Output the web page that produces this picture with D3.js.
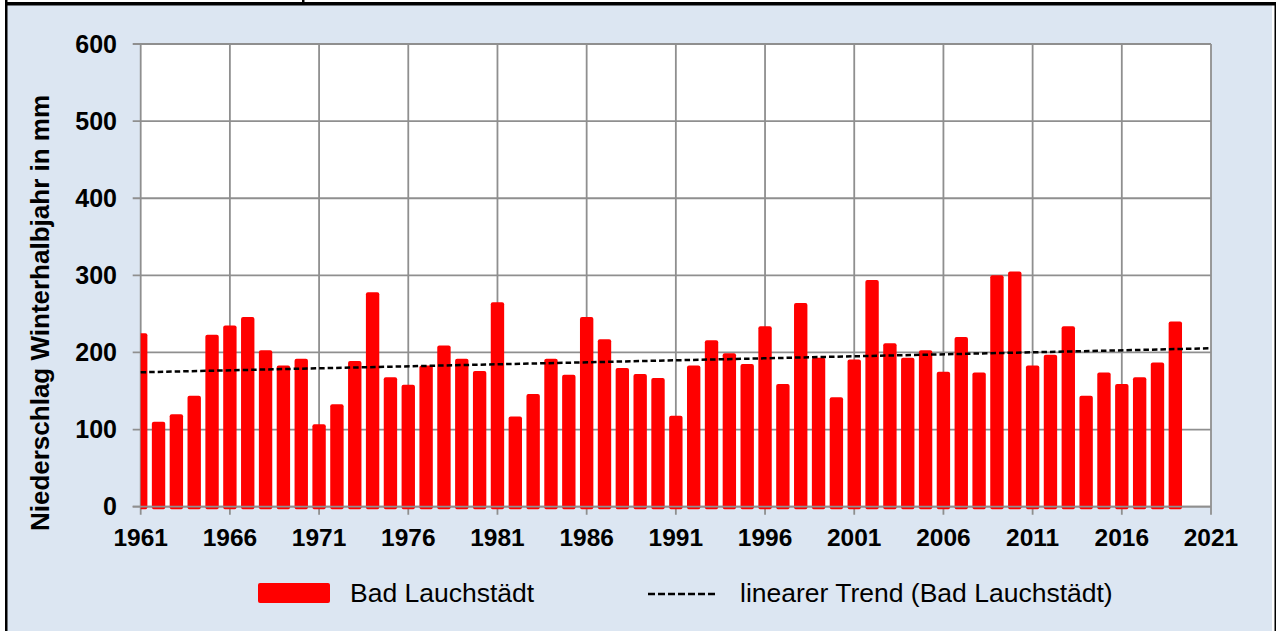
<!DOCTYPE html>
<html>
<head>
<meta charset="utf-8">
<script src="https://cdn.jsdelivr.net/npm/d3@7"></script>
<style>
  body { margin: 0; background: #fff; }
  svg { display: block; font-family: "Liberation Sans", Arial, sans-serif; }
</style>
</head>
<body>
<script>
// Niederschlag Winterhalbjahr, Bad Lauchstädt
var years = d3.range(1961, 2020);
var values = [
  225, 110, 120, 144, 223, 235, 246, 203, 183, 192,
  107, 133, 189, 278, 168, 158, 183, 209, 192, 176,
  265, 117, 146, 192, 171, 246, 217, 180, 172, 167,
  118, 183, 216, 199, 185, 234, 159, 264, 193, 142,
  191, 294, 212, 193, 203, 175, 220, 174, 300, 305,
  183, 197, 234, 144, 174, 159, 168, 187, 240
];
var trendStart = 174.3, trendEnd = 205.4;   // linear trend at 1961 and 2021
var yTicks = [0, 100, 200, 300, 400, 500, 600];
var xTicks = d3.range(1961, 2022, 5);
var seriesName = "Bad Lauchstädt";
var trendName = "linearer Trend (Bad Lauchstädt)";
var yTitle = "Niederschlag Winterhalbjahr in mm";

var W = 1276, H = 631;
var svg = d3.select("body").append("svg").attr("width", W).attr("height", H);

// frame
svg.append("rect").attr("x", 7).attr("y", 5).attr("width", 1266).attr("height", H - 5).attr("fill", "#dce6f2");
svg.append("rect").attr("x", 1272).attr("y", 5).attr("width", 2).attr("height", H - 5).attr("fill", "#fff");
svg.append("rect").attr("x", 5).attr("y", 2).attr("width", W - 5).attr("height", 3.5).attr("fill", "#000");
svg.append("rect").attr("x", 5).attr("y", 0).attr("width", 2.5).attr("height", H).attr("fill", "#000");
svg.append("rect").attr("x", 1274.5).attr("y", 2).attr("width", 1.5).attr("height", H).attr("fill", "#000");
svg.append("rect").attr("x", 302).attr("y", 0).attr("width", 2.5).attr("height", 4).attr("fill", "#000");

var x = d3.scaleLinear().domain([1961, 2021]).range([140.7, 1211]);
var y = d3.scaleLinear().domain([0, 600]).range([506.7, 44]);
var step = x(1962) - x(1961);
var bw = step * 0.75;

svg.append("rect")
  .attr("x", x(1961)).attr("y", y(600))
  .attr("width", x(2021) - x(1961)).attr("height", y(0) - y(600))
  .attr("fill", "#fff");

var grid = "#8f8f8f";

// horizontal grid + y tick marks
svg.append("g").selectAll("line").data(yTicks).join("line")
  .attr("x1", x(1961) - 8).attr("x2", x(2021))
  .attr("y1", d => y(d)).attr("y2", d => y(d))
  .attr("stroke", grid).attr("stroke-width", 1.8);

// vertical grid + x tick marks
svg.append("g").selectAll("line").data(xTicks).join("line")
  .attr("x1", d => x(d)).attr("x2", d => x(d))
  .attr("y1", y(600)).attr("y2", y(0) + 8)
  .attr("stroke", grid).attr("stroke-width", 1.8);

svg.append("clipPath").attr("id", "plot")
  .append("rect").attr("x", x(1961)).attr("y", 0)
  .attr("width", x(2021) - x(1961)).attr("height", 520);

svg.append("g").attr("clip-path", "url(#plot)")
  .selectAll("rect").data(years).join("rect")
  .attr("x", d => x(d) - bw / 2)
  .attr("y", (d, i) => y(values[i]))
  .attr("width", bw)
  .attr("height", (d, i) => y(0) - y(values[i]) + 2.5)
  .attr("rx", 2)
  .attr("fill", "#ff0000");

// zero line on top of bars
svg.append("line")
  .attr("x1", x(1961) - 8).attr("x2", x(2021))
  .attr("y1", y(0)).attr("y2", y(0))
  .attr("stroke", grid).attr("stroke-width", 1.8);

// trend
svg.append("line")
  .attr("x1", x(1961)).attr("x2", x(2021))
  .attr("y1", y(trendStart)).attr("y2", y(trendEnd))
  .attr("stroke", "#000").attr("stroke-width", 2.5)
  .attr("stroke-dasharray", "5.5,3");

// tick labels
svg.append("g").selectAll("text").data(yTicks).join("text")
  .attr("x", 117).attr("y", d => y(d)).attr("dy", "0.35em")
  .attr("text-anchor", "end")
  .attr("font-size", 25).attr("font-weight", "bold")
  .text(d => d);

svg.append("g").selectAll("text").data(xTicks).join("text")
  .attr("x", d => x(d)).attr("y", 546)
  .attr("text-anchor", "middle")
  .attr("font-size", 24.5).attr("font-weight", "bold")
  .text(d => d);

svg.append("text")
  .attr("transform", "translate(49,313) rotate(-90)")
  .attr("text-anchor", "middle")
  .attr("font-size", 26).attr("font-weight", "bold")
  .text(yTitle);

// legend
svg.append("rect").attr("x", 258).attr("y", 583).attr("width", 72).attr("height", 20)
  .attr("rx", 2).attr("fill", "#ff0000");
svg.append("text").attr("x", 350).attr("y", 602).attr("font-size", 26.5).text(seriesName);
svg.append("line").attr("x1", 648).attr("x2", 718).attr("y1", 594).attr("y2", 594)
  .attr("stroke", "#000").attr("stroke-width", 2.5).attr("stroke-dasharray", "7,3");
svg.append("text").attr("x", 740).attr("y", 602).attr("font-size", 26.5).text(trendName);
</script>
</body>
</html>
